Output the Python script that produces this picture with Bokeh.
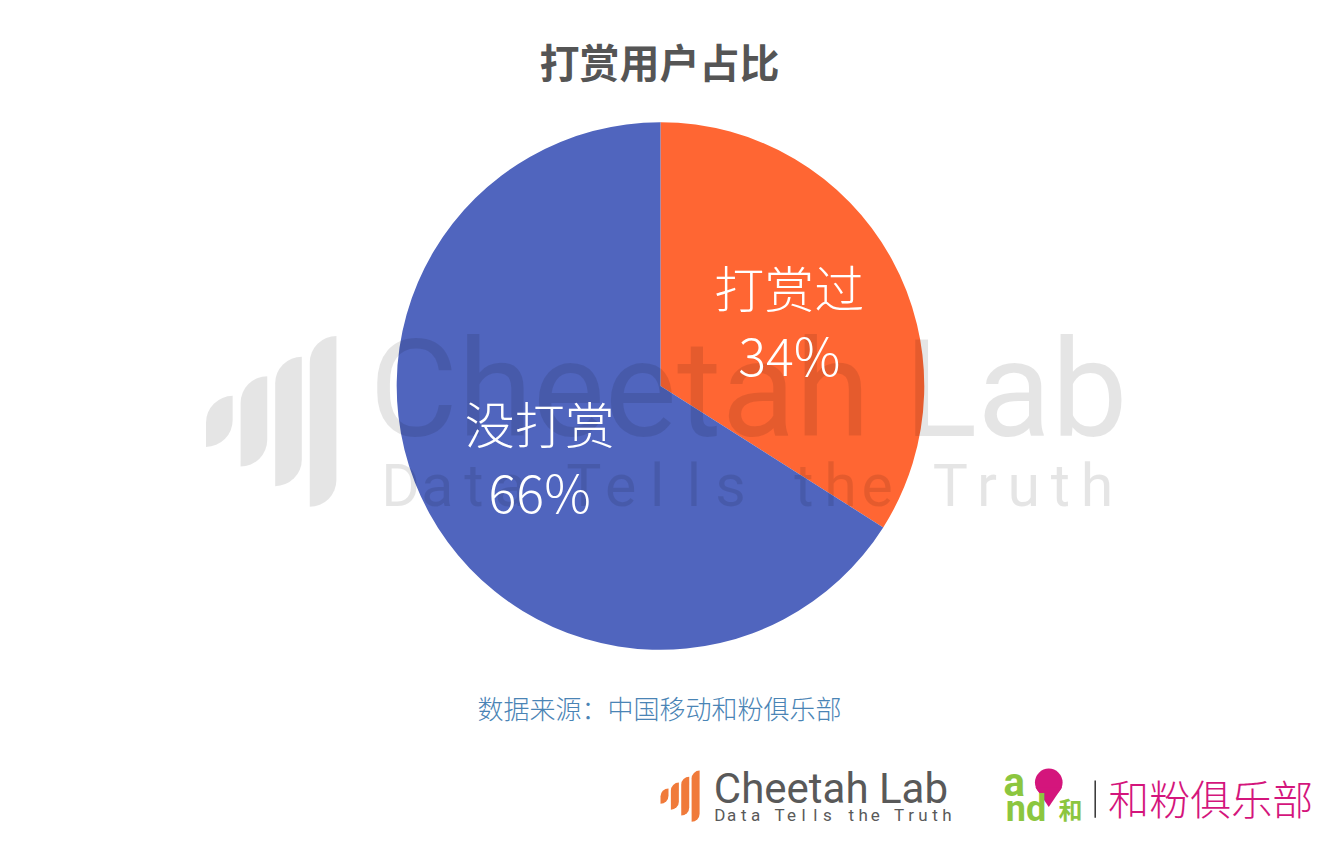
import numpy as np
from bokeh.plotting import figure
from bokeh.models import Range1d, ColumnDataSource
from bokeh.core.properties import value
from bokeh.embed import file_html
from bokeh.resources import INLINE

# ---------------- data ----------------
title_text = "打赏用户占比"
categories = ["打赏过", "没打赏"]
shares = [34, 66]
pct_labels = ["34%", "66%"]
slice_colors = ["#FF6633", "#5065BE"]
source_note = "数据来源：中国移动和粉俱乐部"
wm_main = "Cheetah Lab"
wm_sub = "Data Tells the Truth"
club_name = "和粉俱乐部"

# ---------------- canvas ----------------
W, H = 1317, 829
def Y(y):
    return 845 - y

p = figure(width=W, height=H, x_range=Range1d(0, 1333), y_range=Range1d(0, 845),
           output_backend="svg", toolbar_location=None, min_border=0)
p.axis.visible = False
p.xgrid.visible = False
p.ygrid.visible = False
p.outline_line_color = None
p.background_fill_color = "white"
p.border_fill_color = "white"

CJK = "Noto Sans CJK SC"
CJK_LIGHT = "'Noto Sans CJK SC Light', 'Noto Sans CJK SC DemiLight', 'Noto Sans CJK SC'"

# ---------------- pie ----------------
cx, cy, R = 668, Y(393), 267
fr = np.array(shares, dtype=float) / sum(shares)
ends = np.pi / 2 - 2 * np.pi * np.concatenate([[0.0], np.cumsum(fr)[:-1]])
starts = ends - 2 * np.pi * fr
mid = (starts + ends) / 2
pie_src = ColumnDataSource(dict(start=starts, end=ends, color=slice_colors))
p.wedge(x=cx, y=cy, radius=R, start_angle="start", end_angle="end",
        fill_color="color", line_color=None, source=pie_src)

# ---------------- watermark ----------------
def icon(x0, ycen, s, color, alpha):
    heights = np.array([52, 92, 132, 174]) * s
    w = 27 * s
    lefts = x0 + np.arange(4) * 35 * s
    p.quad(left=lefts, right=lefts + w, top=ycen + heights / 2, bottom=ycen - heights / 2,
           fill_color=color, fill_alpha=alpha, line_color=None,
           border_radius=(int(round(w)), 0, int(round(w)), 0))

icon(208, Y(429), 1.0, "black", 0.10)
p.text(x=[757], y=[Y(396)], text=[wm_main], text_font=value("Roboto"),
       text_font_size="136px", text_color="black", text_alpha=0.10,
       text_align="center", text_baseline="middle")
chars = list(wm_sub)
cx_chars = 405 + np.arange(len(chars)) * 37.1
keep = [i for i, c in enumerate(chars) if c != " "]
p.text(x=cx_chars[keep], y=[Y(494)] * len(keep), text=[chars[i] for i in keep],
       text_font=value("Roboto"), text_font_size="59px", text_color="black", text_alpha=0.10,
       text_align="center", text_baseline="middle")

# ---------------- slice labels ----------------
lr = 0.54 * R
lx = cx + lr * np.cos(mid)
ly = cy + lr * np.sin(mid)
lab_src = ColumnDataSource(dict(x=lx, y=ly, name=categories, pct=pct_labels))
p.text(x="x", y="y", text="name", source=lab_src, x_offset=4, y_offset=-32,
       text_font=value(CJK_LIGHT), text_font_size="50px", text_color="white",
       text_align="center", text_baseline="middle")
p.text(x="x", y="y", text="pct", source=lab_src, x_offset=4, y_offset=36,
       text_font=value(CJK_LIGHT), text_font_size="52px", text_color="white",
       text_align="center", text_baseline="middle")

# ---------------- title & source ----------------
p.text(x=[667], y=[Y(62)], text=[title_text], text_font=value(CJK),
       text_font_style="bold", text_font_size="40px", text_color="#555555",
       text_align="center", text_baseline="middle")
p.text(x=[667], y=[Y(721)], text=[source_note], text_font=value(CJK_LIGHT),
       text_font_size="26px", text_color="#4A84B5",
       text_align="center", text_baseline="middle")

# ---------------- bottom logos ----------------
icon(668, Y(811), 0.3, "#F07A3A", 1.0)
p.text(x=[722], y=[Y(803)], text=[wm_main], text_font=value("Roboto"),
       text_font_size="42px", text_color="#595959",
       text_align="left", text_baseline="middle")
bx = 728 + np.arange(len(chars)) * 12.1
p.text(x=bx[keep], y=[Y(830)] * len(keep), text=[chars[i] for i in keep],
       text_font=value("Roboto"), text_font_size="17px", text_color="#595959",
       text_align="center", text_baseline="middle")

green = "#8CC63F"
magenta = "#D4157C"
p.text(x=[1026], y=[Y(797)], text=["a"], text_font=value("Roboto"), text_font_style="bold",
       text_font_size="40px", text_color=green, text_align="center", text_baseline="middle")
p.circle(x=[1061], y=[Y(797)], radius=14, fill_color=magenta, line_color=None)
p.patch(x=[1047.5, 1074.5, 1061], y=[Y(802), Y(802), Y(822)], fill_color=magenta, line_color=None)
p.text(x=[1038], y=[Y(824)], text=["nd"], text_font=value("Roboto"), text_font_style="bold",
       text_font_size="36px", text_color=green, text_align="center", text_baseline="middle")
p.text(x=[1083], y=[Y(824)], text=["和"], text_font=value(CJK), text_font_style="bold",
       text_font_size="24px", text_color=green, text_align="center", text_baseline="middle")
p.segment(x0=[1108], y0=[Y(795)], x1=[1108], y1=[Y(833)], line_color="#333333", line_width=1.5)
p.text(x=[1225], y=[Y(812)], text=[club_name], text_font=value(CJK_LIGHT),
       text_font_size="41px", text_color=magenta, text_align="center", text_baseline="middle")

open("out.html", "w").write(file_html(p, INLINE))
